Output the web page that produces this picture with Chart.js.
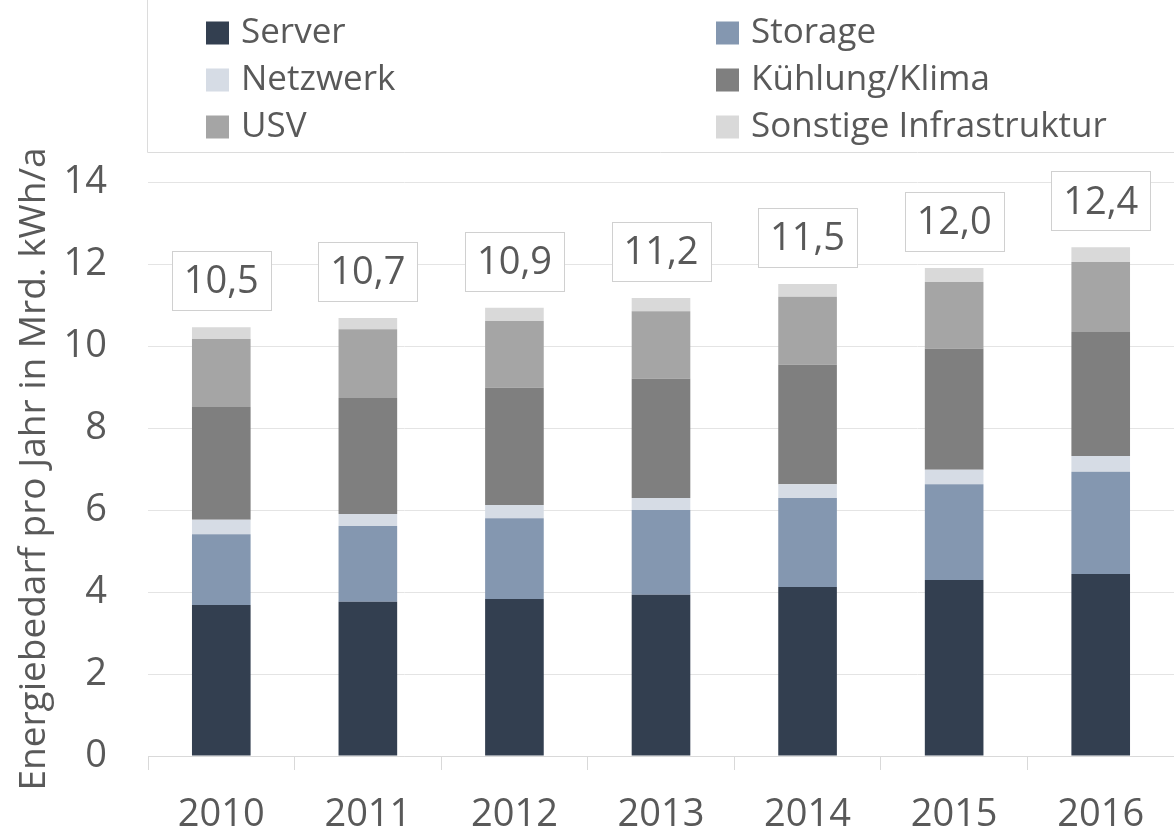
<!DOCTYPE html>
<html lang="de">
<head>
<meta charset="utf-8">
<title>Energiebedarf pro Jahr</title>
<script src="https://cdn.jsdelivr.net/npm/chart.js"></script>
<style>
	html, body { margin: 0; padding: 0; background: #ffffff; }
	#wrap { width: 1174px; height: 832px; }
</style>
</head>
<body>
<div id="wrap"><canvas id="grafica" width="1174" height="832"></canvas></div>
<script>
	// -----------------------------------------------------------------
	// Datos (Mrd. kWh/a)
	// -----------------------------------------------------------------
	const jahre    = ['2010', '2011', '2012', '2013', '2014', '2015', '2016'];
	const server   = [3.68, 3.76, 3.83, 3.93, 4.12, 4.29, 4.44];
	const storage  = [1.73, 1.85, 1.97, 2.07, 2.17, 2.34, 2.49];
	const netzwerk = [0.35, 0.29, 0.32, 0.29, 0.34, 0.35, 0.39];
	const kuehlung = [2.75, 2.83, 2.86, 2.91, 2.91, 2.95, 3.02];
	const usv      = [1.66, 1.68, 1.63, 1.65, 1.66, 1.63, 1.71];
	const sonstige = [0.29, 0.27, 0.32, 0.32, 0.31, 0.34, 0.36];
	const summen   = ['10,5', '10,7', '10,9', '11,2', '11,5', '12,0', '12,4'];

	const FUENTE = '"Open Sans", "Liberation Sans", sans-serif';
	const GRIS_TEXTO = '#595959';

	// Leyenda propia en dos columnas, con marco arriba a la derecha
	const legendeBox = {
		id: 'legendeBox',
		afterDraw: (chart) => {
			const ctx = chart.ctx;
			ctx.save();
			ctx.strokeStyle = '#dcdcdc';
			ctx.lineWidth = 1;
			ctx.beginPath();
			ctx.moveTo(147.5, 0);
			ctx.lineTo(147.5, 152.5);
			ctx.lineTo(chart.width, 152.5);
			ctx.stroke();

			ctx.font = '35px ' + FUENTE;
			ctx.textBaseline = 'middle';
			ctx.textAlign = 'left';
			chart.data.datasets.forEach((ds, i) => {
				const x = (i % 2 === 0) ? 206 : 716;
				const y = 33 + Math.floor(i / 2) * 47;
				ctx.fillStyle = ds.backgroundColor;
				ctx.fillRect(x, y - 11.5, 23, 23);
				ctx.fillStyle = GRIS_TEXTO;
				ctx.fillText(ds.label, x + 35, y);
			});
			ctx.restore();
		}
	};

	// Cajas con la suma encima de cada columna
	const summenBox = {
		id: 'summenBox',
		afterDatasetsDraw: (chart) => {
			const ctx = chart.ctx;
			const meta = chart.getDatasetMeta(chart.data.datasets.length - 1);
			ctx.save();
			ctx.font = '38px ' + FUENTE;
			ctx.textAlign = 'center';
			ctx.textBaseline = 'middle';
			meta.data.forEach((bar, i) => {
				const txt = summen[i];
				const w = Math.round(ctx.measureText(txt).width + 24);
				const h = 59;
				const cy = bar.y - 17 - h / 2;
				const x0 = Math.round(bar.x - w / 2) + 0.5;
				const y0 = Math.round(cy - h / 2) + 0.5;
				ctx.fillStyle = '#ffffff';
				ctx.fillRect(x0, y0, w, h);
				ctx.strokeStyle = '#d0d0d0';
				ctx.lineWidth = 1;
				ctx.strokeRect(x0, y0, w, h);
				ctx.fillStyle = GRIS_TEXTO;
				ctx.fillText(txt, bar.x, cy + 2);
			});
			ctx.restore();
		}
	};

	new Chart(document.getElementById('grafica'), {
		type: 'bar',
		data: {
			labels: jahre,
			datasets: [
				{ label: 'Server', data: server, backgroundColor: '#333f50' },
				{ label: 'Storage', data: storage, backgroundColor: '#8497b0' },
				{ label: 'Netzwerk', data: netzwerk, backgroundColor: '#d6dce5' },
				{ label: 'Kühlung/Klima', data: kuehlung, backgroundColor: '#7f7f7f' },
				{ label: 'USV', data: usv, backgroundColor: '#a5a5a5' },
				{ label: 'Sonstige Infrastruktur', data: sonstige, backgroundColor: '#d9d9d9' }
			]
		},
		options: {
			responsive: false,
			animation: false,
			devicePixelRatio: 1,
			layout: { padding: { top: 182, left: 0, right: 0, bottom: 0 } },
			datasets: {
				bar: { barPercentage: 0.4, categoryPercentage: 1.0, borderWidth: 0 }
			},
			plugins: {
				legend: { display: false },
				title: { display: false },
				tooltip: { enabled: false }
			},
			scales: {
				x: {
					stacked: true,
					afterFit: (scale) => { scale.height = 76; },
					grid: {
						offset: true,
						drawOnChartArea: false,
						drawTicks: true,
						tickLength: 14,
						color: '#d9d9d9'
					},
					border: { display: true, color: '#d9d9d9' },
					ticks: {
						color: GRIS_TEXTO,
						font: { family: FUENTE, size: 38 },
						padding: 22,
						autoSkip: false,
						maxRotation: 0
					}
				},
				y: {
					stacked: true,
					min: 0,
					max: 14,
					afterFit: (scale) => { scale.width = 148; },
					grid: { color: '#e4e4e4', drawTicks: false },
					border: { display: false },
					ticks: {
						stepSize: 2,
						color: GRIS_TEXTO,
						font: { family: FUENTE, size: 38 },
						padding: 41
					},
					title: {
						display: true,
						text: 'Energiebedarf pro Jahr in Mrd. kWh/a',
						color: GRIS_TEXTO,
						font: { family: FUENTE, size: 37 },
						padding: { top: 12, bottom: 0 }
					}
				}
			}
		},
		plugins: [legendeBox, summenBox]
	});
</script>
</body>
</html>
